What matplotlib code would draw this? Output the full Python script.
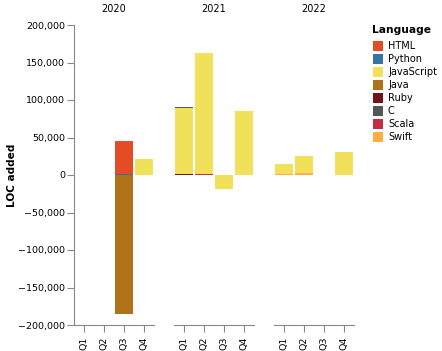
import numpy as np
import matplotlib
matplotlib.use('Agg')
import matplotlib.pyplot as plt
from matplotlib.patches import Rectangle
from matplotlib.ticker import FuncFormatter

years = ['2020', '2021', '2022']
quarters = ['Q1', 'Q2', 'Q3', 'Q4']

languages = ['HTML', 'Python', 'JavaScript', 'Java', 'Ruby', 'C', 'Scala', 'Swift']
colors = ['#e34c26', '#3572a5', '#f1e05a', '#b07219', '#701516', '#555555', '#c22d40', '#ffac45']

# LOC added per quarter, 2020 Q1 .. 2022 Q4
html = [0, 0, 43000, 0, 0, 0, 0, 0, 0, 0, 0, 0]
python = [0, 0, 2000, 0, 0, 0, 0, 0, 0, 0, 0, 0]
javascript = [0, 0, 0, 21000, 88000, 161500, -19000, 85000, 13000, 22500, 0, 30500]
java = [0, 0, -185000, 0, 0, 0, 0, 0, 0, 0, 0, 0]
ruby = [0, 0, 0, 0, 1500, 0, 0, 0, 0, 0, 0, 0]
c = [0, 0, 0, 0, 800, 0, 0, 0, 0, 0, 0, 0]
scala = [0, 0, 0, 0, 0, 1200, 0, 0, 0, 0, 0, 0]
swift = [0, 0, 0, 0, 0, 0, 0, 0, 1500, 2500, 0, 0]

series = {'HTML': html, 'Python': python, 'JavaScript': javascript, 'Java': java,
          'Ruby': ruby, 'C': c, 'Scala': scala, 'Swift': swift}
color_of = dict(zip(languages, colors))

# bottom to top
stack_order = ['Swift', 'Scala', 'Ruby', 'Java', 'JavaScript', 'Python', 'HTML', 'C']

W, H = 442, 351
fig = plt.figure(figsize=(W / 100, H / 100), dpi=100)
fs = 6.8
axis_col = '#888888'

def fx(px):
    return px / W

def fy(py):
    return 1 - py / H

for i, year in enumerate(years):
    left = 74 + i * 100
    ax = fig.add_axes([fx(left), fy(325), 80 / W, 300 / H])
    x = np.arange(len(quarters))
    pos = np.zeros(4)
    neg = np.zeros(4)
    for lang in stack_order:
        vals = np.array(series[lang][i * 4:(i + 1) * 4], dtype=float)
        base = np.where(vals >= 0, pos, neg)
        ax.bar(x, vals, bottom=base, width=0.9, color=color_of[lang], linewidth=0)
        pos += np.where(vals >= 0, vals, 0)
        neg += np.where(vals < 0, vals, 0)
    ax.set_xlim(-0.5, 3.5)
    ax.set_ylim(-200000, 200000)
    ax.set_xticks(x)
    ax.set_xticklabels(quarters, rotation=90, fontsize=fs)
    ax.set_title(year, fontsize=7.0, pad=9)
    for s in ['top', 'right']:
        ax.spines[s].set_visible(False)
    ax.spines['bottom'].set_color(axis_col)
    ax.spines['left'].set_color(axis_col)
    ax.tick_params(colors=axis_col, labelcolor='black', length=5, width=0.8)
    if i == 0:
        ax.set_yticks(np.arange(-200000, 200001, 50000))
        ax.yaxis.set_major_formatter(FuncFormatter(lambda v, p: '{:,.0f}'.format(v).replace('-', '\u2212')))
        ax.tick_params(axis='y', labelsize=fs, pad=1.5)
    else:
        ax.spines['left'].set_visible(False)
        ax.set_yticks([])

fig.text(fx(12), fy(175), 'LOC added', rotation=90, ha='center', va='center',
         fontsize=7.6, fontweight='bold')

# legend
fig.text(fx(372), fy(30), 'Language', ha='left', va='center', fontsize=7.7, fontweight='bold')
for k, lang in enumerate(languages):
    cy = 46 + k * 13.05
    fig.add_artist(Rectangle((fx(373), fy(cy + 5)), 10 / W, 10 / H,
                             transform=fig.transFigure, facecolor=color_of[lang], linewidth=0))
    fig.text(fx(388), fy(cy), lang, ha='left', va='center', fontsize=7.0)

fig.savefig('out.png', dpi=100)
